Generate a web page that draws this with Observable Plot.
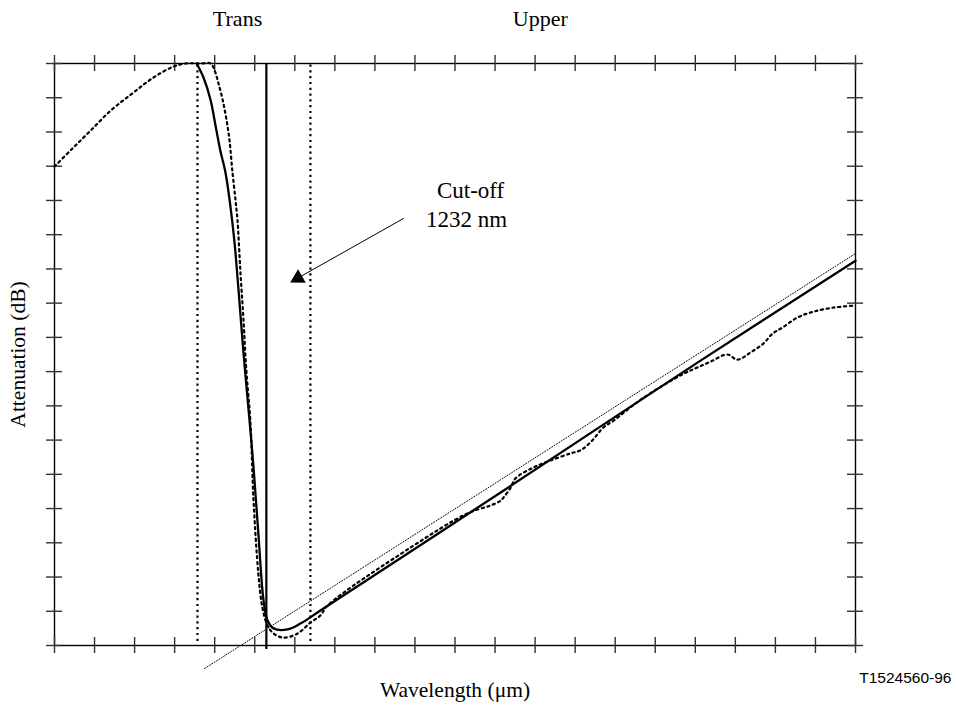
<!DOCTYPE html>
<html>
<head>
<meta charset="utf-8">
<script src="https://cdn.jsdelivr.net/npm/d3@7"></script>
<script src="https://cdn.jsdelivr.net/npm/@observablehq/plot@0.6"></script>
<style>
  html, body { margin: 0; padding: 0; background: #fff; }
  #chart svg { display: block; }
</style>
</head>
<body>
<div id="chart"></div>
<script>
// Tick positions (no labels in the original)
const xTicks = d3.range(0, 21);
const yTicks = d3.range(0, 18);

// Measured attenuation (solid curve), in tick units
const solidX = [3.55, 3.72, 3.90, 4.02, 4.14, 4.27, 4.39, 4.49, 4.59, 4.72, 4.87, 4.97, 5.09, 5.22, 5.32, 5.47, 5.82, 6.14, 6.64, 11.14, 16.13, 20];
const solidY = [17.0, 16.59, 15.92, 15.19, 14.46, 13.81, 12.85, 11.83, 10.46, 8.53, 6.57, 5.20, 3.27, 1.31, 0.73, 0.50, 0.47, 0.64, 1.02, 4.47, 8.32, 11.24];

// Second measurement (dotted curve)
const dotX = [0, 0.45, 0.90, 1.40, 1.97, 2.47, 2.97, 3.27, 3.65, 3.90, 4.00, 4.09, 4.19, 4.29, 4.37, 4.44, 4.52, 4.57, 4.64, 4.72, 4.79, 4.89, 4.97, 5.09, 5.19, 5.32, 5.47, 5.72, 6.07, 6.39, 6.64, 6.82, 8.89, 10.31, 10.89, 11.14, 11.21, 11.39, 11.51, 11.96, 12.38, 12.88, 13.13, 13.38, 13.71, 13.96, 14.71, 15.71, 16.05, 16.38, 16.80, 17.05, 17.38, 17.70, 17.93, 18.18, 18.55, 18.95, 19.45, 20];
const dotY = [13.99, 14.52, 15.04, 15.62, 16.15, 16.59, 16.91, 17.0, 17.0, 17.0, 16.79, 16.44, 15.98, 15.39, 14.75, 13.87, 13.00, 12.41, 10.95, 9.49, 8.03, 6.57, 4.23, 2.10, 1.11, 0.58, 0.35, 0.23, 0.35, 0.67, 0.88, 1.17, 2.86, 3.86, 4.09, 4.23, 4.32, 4.61, 4.88, 5.20, 5.40, 5.61, 5.70, 5.93, 6.37, 6.57, 7.24, 7.94, 8.12, 8.29, 8.50, 8.35, 8.56, 8.82, 9.11, 9.29, 9.58, 9.75, 9.87, 9.93];

// Straight fitted (tangent) line
const tangentX = [3.75, 20];
const tangentY = [-0.67, 11.45];

// Vertical markers
const cutoffX = 5.29;
const boundX = [3.57, 6.39];

// Arrow for the cut-off annotation
const arrowX = [8.71, 5.95];
const arrowY = [12.47, 10.65];
const arrowHead = {x: 6.08, y: 10.73};

// Labels
const topLabels = [{text: "Trans", x: 4.57}, {text: "Upper", x: 12.13}];
const noteLines = [{text: "Cut-off", x: 10.39, y: 13.29}, {text: "1232 nm", x: 10.29, y: 12.44}];

const W = 956, H = 706;
const mL = 54, mR = 101, mT = 63, mB = 61;
const pxX = (W - mL - mR) / 20;
const pxY = (H - mT - mB) / 17;
const tx = 8 / pxX, ty = 8 / pxY;

const serif = "'Liberation Serif', 'Times New Roman', serif";
const dotted = {stroke: "#000", strokeWidth: 2.2, strokeDasharray: "2.2 3.6"};

const solid = solidX.map((x, i) => ({x, y: solidY[i]}));
const dots = dotX.map((x, i) => ({x, y: dotY[i]}));
const tangent = tangentX.map((x, i) => ({x, y: tangentY[i]}));
const arrow = arrowX.map((x, i) => ({x, y: arrowY[i]}));

const chart = Plot.plot({
  width: W,
  height: H,
  marginLeft: mL, marginRight: mR, marginTop: mT, marginBottom: mB,
  x: {domain: [0, 20], axis: null},
  y: {domain: [0, 17], axis: null},
  style: {fontFamily: serif, background: "#fff", color: "#000"},
  marks: [
    // frame
    Plot.frame({stroke: "#000", strokeWidth: 1.4}),
    // crossing ticks on four sides
    Plot.ruleX(xTicks, {x: d => d, y1: -ty, y2: ty, stroke: "#333", strokeWidth: 1.4}),
    Plot.ruleX(xTicks, {x: d => d, y1: 17 - ty, y2: 17 + ty, stroke: "#333", strokeWidth: 1.4}),
    Plot.ruleY(yTicks, {y: d => d, x1: -tx, x2: tx, stroke: "#333", strokeWidth: 1.4}),
    Plot.ruleY(yTicks, {y: d => d, x1: 20 - tx, x2: 20 + tx, stroke: "#333", strokeWidth: 1.4}),
    // vertical markers
    Plot.ruleX(boundX, {x: d => d, y1: 0.12, y2: 17, ...dotted}),
    Plot.ruleX([cutoffX], {x: d => d, y1: -0.12, y2: 17, stroke: "#000", strokeWidth: 2.2}),
    // tangent line
    Plot.line(tangent, {x: "x", y: "y", stroke: "#000", strokeWidth: 1, strokeDasharray: "1 1.8"}),
    // curves
    Plot.line(dots, {x: "x", y: "y", curve: "catmull-rom", ...dotted}),
    Plot.line(solid, {x: "x", y: "y", curve: "catmull-rom", stroke: "#000", strokeWidth: 2.3}),
    // arrow
    Plot.line(arrow, {x: "x", y: "y", stroke: "#000", strokeWidth: 1}),
    Plot.dot([arrowHead], {x: "x", y: "y", symbol: "triangle", r: 5.8, fill: "#000", stroke: "none", rotate: -119.5}),
    // annotations
    Plot.text(noteLines, {x: "x", y: "y", text: "text", fontSize: 23, fontFamily: serif, fill: "#000"}),
    Plot.text(topLabels, {x: "x", text: "text", frameAnchor: "top", lineAnchor: "middle", dy: -45, fontSize: 22, fontFamily: serif, fill: "#000"}),
    Plot.text(["Attenuation (dB)"], {frameAnchor: "left", textAnchor: "middle", lineAnchor: "middle", dx: -36, rotate: -90, fontSize: 21.5, fontFamily: serif, fill: "#000"}),
    Plot.text(["Wavelength (\u03bcm)"], {frameAnchor: "bottom", lineAnchor: "middle", dy: 45, fontSize: 21.5, fontFamily: serif, fill: "#000"}),
    Plot.text(["T1524560-96"], {frameAnchor: "bottom-right", textAnchor: "end", lineAnchor: "middle", dx: 96, dy: 33, fontSize: 15.5, fontFamily: "'Liberation Sans', Arial, sans-serif", fill: "#000"})
  ]
});
document.getElementById("chart").appendChild(chart);
</script>
</body>
</html>
